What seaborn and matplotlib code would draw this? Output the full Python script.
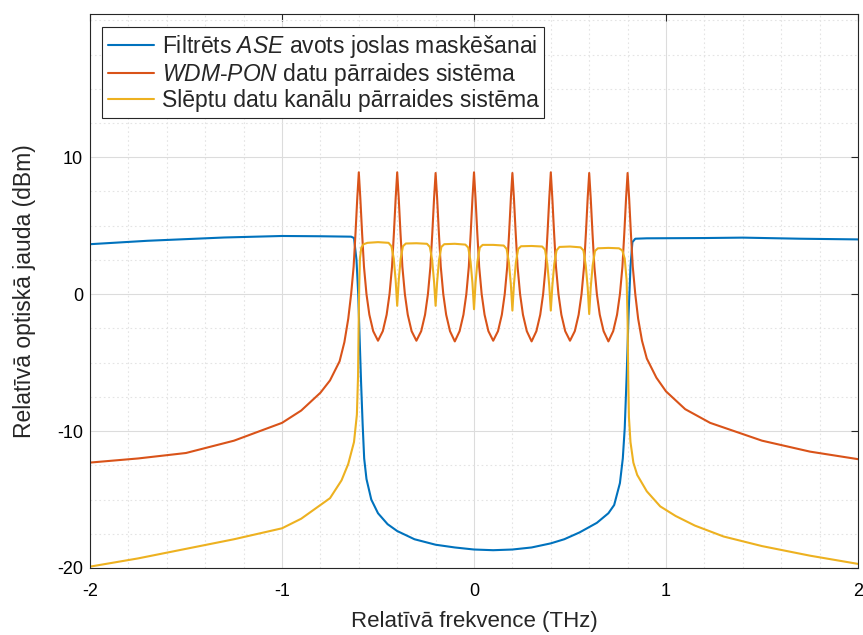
import matplotlib
matplotlib.use("Agg")
import matplotlib.pyplot as plt
import seaborn as sns

# filtered ASE source (band mask)
blue_x = [-2.0, -1.7, -1.3, -1.0, -0.8, -0.64, -0.625, -0.612, -0.603, -0.595, -0.588,
          -0.58, -0.572, -0.56, -0.535, -0.5, -0.45, -0.4, -0.31, -0.2, -0.1, 0.0, 0.1,
          0.2, 0.3, 0.4, 0.47, 0.55, 0.64, 0.7, 0.73, 0.76, 0.775, 0.785, 0.795, 0.805,
          0.815, 0.825, 0.84, 0.9, 1.2, 1.4, 1.7, 2.0]
blue_y = [3.65, 3.9, 4.14, 4.25, 4.23, 4.2, 4.1, 2.5, 0.0, -3.5, -6.5,
          -9.5, -12.0, -13.5, -15.0, -16.0, -16.8, -17.3, -17.9, -18.3, -18.5, -18.65, -18.7,
          -18.65, -18.5, -18.2, -17.9, -17.4, -16.7, -16.0, -15.4, -13.8, -12.0, -9.8, -6.0, -1.5,
          2.0, 3.8, 4.05, 4.08, 4.1, 4.13, 4.05, 4.0]

# WDM-PON data transmission system
orange_x = [-2.0, -1.75, -1.5, -1.25, -1.0, -0.9, -0.8, -0.75, -0.7, -0.675, -0.655, -0.64, -0.627, -0.617, -0.608, -0.6,
            -0.592, -0.583, -0.573, -0.56, -0.545, -0.525, -0.5, -0.475, -0.455, -0.44, -0.427, -0.417, -0.408, -0.4,
            -0.392, -0.383, -0.373, -0.36, -0.345, -0.325, -0.3, -0.275, -0.255, -0.24, -0.227, -0.217, -0.208, -0.2,
            -0.192, -0.183, -0.173, -0.16, -0.145, -0.125, -0.1, -0.075, -0.055, -0.04, -0.027, -0.017, -0.008, 0.0,
            0.008, 0.017, 0.027, 0.04, 0.055, 0.075, 0.1, 0.125, 0.145, 0.16, 0.173, 0.183, 0.192, 0.2,
            0.208, 0.217, 0.227, 0.24, 0.255, 0.275, 0.3, 0.325, 0.345, 0.36, 0.373, 0.383, 0.392, 0.4,
            0.408, 0.417, 0.427, 0.44, 0.455, 0.475, 0.5, 0.525, 0.545, 0.56, 0.573, 0.583, 0.592, 0.6,
            0.608, 0.617, 0.627, 0.64, 0.655, 0.675, 0.7, 0.725, 0.745, 0.76, 0.773, 0.783, 0.792, 0.8,
            0.808, 0.817, 0.827, 0.84, 0.855, 0.875, 0.9, 0.95, 1.0, 1.1, 1.23, 1.5, 1.75, 2.0]
orange_y = [-12.3, -12.0, -11.6, -10.7, -9.4, -8.5, -7.2, -6.3, -4.9, -3.5, -1.8, 0.0, 2.0, 4.5, 7.0, 8.9,
            7.0, 4.5, 2.0, 0.0, -1.5, -2.7, -3.4, -2.7, -1.5, 0.0, 2.0, 4.5, 7.0, 8.9,
            7.0, 4.5, 2.0, 0.0, -1.5, -2.7, -3.4, -2.7, -1.5, 0.0, 2.0, 4.5, 7.0, 8.85,
            7.0, 4.5, 2.0, 0.0, -1.5, -2.7, -3.45, -2.7, -1.5, 0.0, 2.0, 4.5, 7.0, 8.9,
            7.0, 4.5, 2.0, 0.0, -1.5, -2.7, -3.4, -2.7, -1.5, 0.0, 2.0, 4.5, 7.0, 8.85,
            7.0, 4.5, 2.0, 0.0, -1.5, -2.7, -3.45, -2.7, -1.5, 0.0, 2.0, 4.5, 7.0, 8.9,
            7.0, 4.5, 2.0, 0.0, -1.5, -2.7, -3.4, -2.7, -1.5, 0.0, 2.0, 4.5, 7.0, 8.85,
            7.0, 4.5, 2.0, 0.0, -1.5, -2.7, -3.45, -2.7, -1.5, 0.0, 2.0, 4.5, 7.0, 8.85,
            7.0, 4.5, 2.0, 0.0, -1.8, -3.4, -4.7, -6.1, -7.1, -8.4, -9.4, -10.7, -11.5, -12.05]

# hidden data channel transmission system
yellow_x = [-2.0, -1.75, -1.5, -1.25, -1.0, -0.9, -0.83, -0.75, -0.69, -0.655, -0.625, -0.61, -0.604, -0.601,
            -0.598, -0.594, -0.587, -0.575, -0.555,
            -0.5, -0.445, -0.43, -0.418, -0.408, -0.4, -0.392, -0.382, -0.37, -0.355,
            -0.3, -0.245, -0.23, -0.218, -0.208, -0.2, -0.192, -0.182, -0.17, -0.155,
            -0.1, -0.045, -0.03, -0.018, -0.008, 0.0, 0.008, 0.018, 0.03, 0.045,
            0.1, 0.155, 0.17, 0.182, 0.192, 0.2, 0.208, 0.218, 0.23, 0.245,
            0.3, 0.355, 0.37, 0.382, 0.392, 0.4, 0.408, 0.418, 0.43, 0.445,
            0.5, 0.555, 0.57, 0.582, 0.592, 0.6, 0.608, 0.618, 0.63, 0.645,
            0.7, 0.755, 0.772, 0.785, 0.795, 0.8, 0.803, 0.807, 0.815, 0.83, 0.85, 0.9, 0.97, 1.05,
            1.15, 1.3, 1.5, 1.75, 2.0]
yellow_y = [-19.9, -19.3, -18.6, -17.9, -17.1, -16.4, -15.7, -14.9, -13.6, -12.4, -10.8, -8.8, -6.0, -2.5,
            0.5, 2.6, 3.4, 3.65, 3.75,
            3.8, 3.75, 3.5, 2.6, 1.0, -0.85, 1.0, 2.6, 3.5, 3.7,
            3.72, 3.68, 3.45, 2.5, 0.9, -0.85, 0.9, 2.5, 3.45, 3.65,
            3.68, 3.62, 3.4, 2.4, 0.8, -1.1, 0.8, 2.4, 3.4, 3.6,
            3.6, 3.55, 3.3, 2.3, 0.7, -1.2, 0.7, 2.3, 3.3, 3.5,
            3.52, 3.48, 3.25, 2.2, 0.6, -1.2, 0.6, 2.2, 3.2, 3.45,
            3.48, 3.42, 3.2, 2.1, 0.5, -1.45, 0.5, 2.1, 3.15, 3.35,
            3.38, 3.35, 3.2, 2.6, 1.0, -2.0, -6.0, -9.0, -10.8, -12.3, -13.2, -14.4, -15.5, -16.2,
            -16.9, -17.7, -18.4, -19.1, -19.7]

labels = [r"Filtrēts $\mathit{ASE}$ avots joslas maskēšanai",
          r"$\mathit{WDM}$-$\mathit{PON}$ datu pārraides sistēma",
          "Slēptu datu kanālu pārraides sistēma"]
colors = ["#0072BD", "#D95319", "#EDB120"]

sns.set_style("white")
plt.rcParams["font.family"] = ["Liberation Sans", "DejaVu Sans"]
plt.rcParams["mathtext.fontset"] = "custom"
plt.rcParams["mathtext.rm"] = "Liberation Sans"
plt.rcParams["mathtext.it"] = "Liberation Sans:italic"
plt.rcParams["axes.unicode_minus"] = False

fig = plt.figure(figsize=(8.63, 6.35), dpi=100)
ax = fig.add_axes([90 / 863, 67 / 635, 768 / 863, 554.5 / 635])

series = [(blue_x, blue_y), (orange_x, orange_y), (yellow_x, yellow_y)]
for (xs, ys), lab, col in zip(series, labels, colors):
    sns.lineplot(x=xs, y=ys, ax=ax, color=col, lw=1.5, label=lab, sort=False)

ax.set_xlim(-2, 2)
ax.set_ylim(-20, 20.5)
ax.set_xticks([-2, -1, 0, 1, 2])
ax.set_yticks([-20, -10, 0, 10])
ax.set_xticks([i / 5 for i in range(-10, 11)], minor=True)
ax.set_yticks([-20 + 2.5 * i for i in range(17)], minor=True)
ax.grid(True, which="major", color="#dcdcdc", lw=0.8)
ax.grid(True, which="minor", color="#e4e4e4", lw=0.8, ls=(0, (1.5, 2.5)))
ax.set_axisbelow(True)
ax.tick_params(which="major", direction="in", length=5, width=0.8, color="#262626",
               top=True, right=True, labelsize=13, labelcolor="#000000")
ax.tick_params(axis="x", which="major", pad=11)
ax.tick_params(axis="y", which="major", pad=5)
ax.tick_params(which="minor", length=0)
for s in ax.spines.values():
    s.set_color("#262626")
    s.set_linewidth(0.8)

ax.set_xlabel("Relatīvā frekvence (THz)", fontsize=16, labelpad=8)
ax.set_ylabel("Relatīvā optiskā jauda (dBm)", fontsize=16.5, labelpad=15)

leg = ax.legend(loc="upper left", bbox_to_anchor=(0.016, 0.975), fontsize=16.5,
                frameon=True, fancybox=False, framealpha=1, edgecolor="#262626",
                handlelength=2.0, handletextpad=0.35, labelspacing=0.04,
                borderpad=0.25, borderaxespad=0)
leg.get_frame().set_linewidth(0.8)

fig.savefig("out.png", dpi=100)
